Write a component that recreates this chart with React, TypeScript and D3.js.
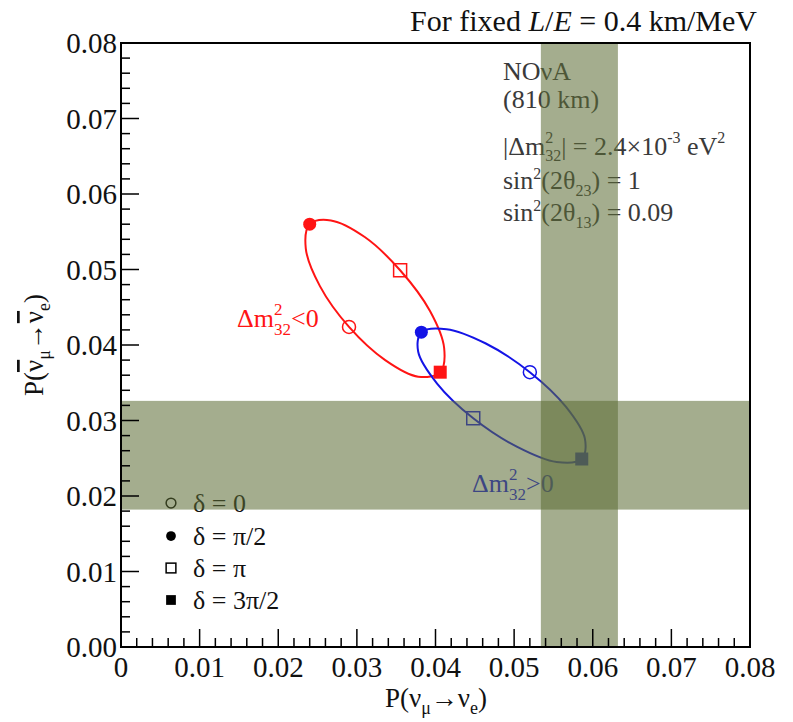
import React from 'react';
import * as d3 from 'd3';

// ---- data ----
const xTickValues = [0, 0.01, 0.02, 0.03, 0.04, 0.05, 0.06, 0.07, 0.08];
const xTickLabels = ['0', '0.01', '0.02', '0.03', '0.04', '0.05', '0.06', '0.07', '0.08'];
const yTickValues = [0, 0.01, 0.02, 0.03, 0.04, 0.05, 0.06, 0.07, 0.08];
const yTickLabels = ['0.00', '0.01', '0.02', '0.03', '0.04', '0.05', '0.06', '0.07', '0.08'];

// traced points along the Δm²32<0 (red) curve
const redCurveX = [0.0290, 0.0253, 0.0235, 0.0240, 0.0267, 0.0310, 0.0355, 0.0393, 0.0411, 0.0406, 0.0378, 0.0336];
const redCurveY = [0.0424, 0.0478, 0.0528, 0.0560, 0.0565, 0.0543, 0.0499, 0.0445, 0.0396, 0.0364, 0.0358, 0.0380];
// traced points along the Δm²32>0 (blue) curve
const blueCurveX = [0.0520, 0.0464, 0.0414, 0.0382, 0.0378, 0.0402, 0.0448, 0.0504, 0.0554, 0.0586, 0.0590, 0.0566];
const blueCurveY = [0.0364, 0.0402, 0.0421, 0.0417, 0.0391, 0.0349, 0.0303, 0.0265, 0.0245, 0.0249, 0.0276, 0.0318];

// δ = 0, π/2, π, 3π/2
const deltaLabels = ['0', 'π/2', 'π', '3π/2'];
const redMarkerX = [0.0290, 0.0240, 0.0355, 0.0406];
const redMarkerY = [0.0424, 0.0560, 0.0499, 0.0364];
const blueMarkerX = [0.0520, 0.0382, 0.0448, 0.0586];
const blueMarkerY = [0.0364, 0.0417, 0.0303, 0.0249];

// NOvA measurement bands
const nuBandX = [0.0534, 0.0632];
const nubarBandY = [0.0182, 0.0326];

// ---- layout ----
const W = 793, H = 722;
const L = 121, R = 750, T = 43, B = 647;
const FONT = "'Liberation Serif', 'DejaVu Serif', serif";
const RED = '#ff1414';
const BLUE = '#1414e6';
const BAND = 'rgb(92,108,53)';

const x = d3.scaleLinear().domain([0, 0.08]).range([L, R]);
const y = d3.scaleLinear().domain([0, 0.08]).range([B, T]);

function Marker({ kind, cx, cy, color, size = 1 }: { kind: number; cx: number; cy: number; color: string; size?: number }) {
  const r = 6.5 * size;
  const s = 6.5 * size;
  if (kind === 0) return <circle cx={cx} cy={cy} r={r} fill="none" stroke={color} strokeWidth={1.5} />;
  if (kind === 1) return <circle cx={cx} cy={cy} r={r} fill={color} />;
  if (kind === 2) return <rect x={cx - s} y={cy - s} width={2 * s} height={2 * s} fill="none" stroke={color} strokeWidth={1.5} />;
  return <rect x={cx - s} y={cy - s} width={2 * s} height={2 * s} fill={color} />;
}

function DmLabel({ xp, yp, color, sign }: { xp: number; yp: number; color: string; sign: string }) {
  return (
    <text x={xp} y={yp} fill={color} fontSize={26}>
      Δm
      <tspan fontSize={17} dy={-12}>2</tspan>
      <tspan fontSize={17} dx={-8.5} dy={20}>32</tspan>
      <tspan dy={-8}>{sign}0</tspan>
    </text>
  );
}

export default function App() {
  const line = d3.line<[number, number]>()
    .x(d => x(d[0]))
    .y(d => y(d[1]))
    .curve(d3.curveCatmullRomClosed.alpha(0.5));
  const redPts: [number, number][] = redCurveX.map((v, i) => [v, redCurveY[i]]);
  const bluePts: [number, number][] = blueCurveX.map((v, i) => [v, blueCurveY[i]]);

  const minorX = d3.range(0, 41).map(i => i * 0.002);
  const minorY = d3.range(0, 41).map(i => i * 0.002);

  const legendY = [503, 536, 568, 600];

  return (
    <svg width={W} height={H} style={{ position: 'absolute', left: 0, top: 0, display: 'block', fontFamily: FONT }}>
      <rect x={0} y={0} width={W} height={H} fill="#fff" />

      {/* title */}
      <text x={757} y={31} textAnchor="end" fontSize={30} fill="#111">
        For fixed <tspan fontStyle="italic">L</tspan>/<tspan fontStyle="italic">E</tspan> = 0.4 km/MeV
      </text>

      {/* annotation */}
      <g fill="#3a3a3a" fontSize={26}>
        <text x={503} y={80}>NOνA</text>
        <text x={503} y={108}>(810 km)</text>
        <text x={503} y={155}>
          |Δm<tspan fontSize={16} dy={-12}>2</tspan>
          <tspan fontSize={16} dx={-8} dy={18}>32</tspan>
          <tspan dy={-6}>| = 2.4×10</tspan>
          <tspan fontSize={16} dy={-12}>-3</tspan>
          <tspan dy={12}> eV</tspan>
          <tspan fontSize={16} dy={-12}>2</tspan>
        </text>
        <text x={503} y={189}>
          sin<tspan fontSize={16} dy={-10}>2</tspan>
          <tspan dy={10}>(2θ</tspan>
          <tspan fontSize={16} dy={7}>23</tspan>
          <tspan dy={-7}>) = 1</tspan>
        </text>
        <text x={503} y={221}>
          sin<tspan fontSize={16} dy={-10}>2</tspan>
          <tspan dy={10}>(2θ</tspan>
          <tspan fontSize={16} dy={7}>13</tspan>
          <tspan dy={-7}>) = 0.09</tspan>
        </text>
      </g>

      {/* curves */}
      <path d={line(redPts) || ''} fill="none" stroke={RED} strokeWidth={2} />
      <path d={line(bluePts) || ''} fill="none" stroke={BLUE} strokeWidth={2} />

      {/* markers */}
      {redMarkerX.map((v, i) => (
        <Marker key={'r' + i} kind={i} cx={x(v)} cy={y(redMarkerY[i])} color={RED} />
      ))}
      {blueMarkerX.map((v, i) => (
        <Marker key={'b' + i} kind={i} cx={x(v)} cy={y(blueMarkerY[i])} color={BLUE} />
      ))}

      <DmLabel xp={237} yp={327} color={RED} sign="<" />
      <DmLabel xp={472} yp={492} color={BLUE} sign=">" />

      {/* legend */}
      {deltaLabels.map((lab, i) => (
        <g key={'lg' + i}>
          <Marker kind={i} cx={171} cy={legendY[i]} color="#000" size={0.75} />
          <text x={193} y={legendY[i] + 9} fontSize={26} fill="#111">δ = {lab}</text>
        </g>
      ))}

      {/* bands (drawn on top, translucent) */}
      <rect x={x(nuBandX[0])} y={T} width={x(nuBandX[1]) - x(nuBandX[0])} height={B - T} fill={BAND} opacity={0.56} />
      <rect x={L} y={y(nubarBandY[1])} width={R - L} height={y(nubarBandY[0]) - y(nubarBandY[1])} fill={BAND} opacity={0.56} />

      {/* ticks */}
      <g stroke="#000" strokeWidth={1.5}>
        {minorX.map((v, i) => {
          const major = i % 5 === 0;
          return <line key={'tx' + i} x1={x(v)} x2={x(v)} y1={B} y2={B - (major ? 18 : 9)} />;
        })}
        {minorY.map((v, i) => {
          const major = i % 5 === 0;
          return <line key={'ty' + i} x1={L} x2={L + (major ? 18 : 9)} y1={y(v)} y2={y(v)} />;
        })}
      </g>

      {/* frame */}
      <rect x={L} y={T} width={R - L} height={B - T} fill="none" stroke="#000" strokeWidth={2} />

      {/* tick labels */}
      {xTickValues.map((v, i) => (
        <text key={'xl' + i} x={x(v)} y={677} textAnchor="middle" fontSize={29} fill="#111">{xTickLabels[i]}</text>
      ))}
      {yTickValues.map((v, i) => (
        <text key={'yl' + i} x={117} y={y(v) + 10} textAnchor="end" fontSize={29} fill="#111">{yTickLabels[i]}</text>
      ))}

      {/* axis titles */}
      <text x={436} y={707} textAnchor="middle" fontSize={27} fill="#111">
        P(ν<tspan fontSize={18} dy={7}>μ</tspan>
        <tspan dy={-7}>→ν</tspan>
        <tspan fontSize={18} dy={7}>e</tspan>
        <tspan dy={-7}>)</tspan>
      </text>
      <text transform="translate(43,345) rotate(-90)" textAnchor="middle" fontSize={27} fill="#111">
        P(<tspan style={{ textDecoration: 'overline' }}>ν</tspan>
        <tspan fontSize={18} dy={7}>μ</tspan>
        <tspan dy={-7}>→</tspan>
        <tspan style={{ textDecoration: 'overline' }}>ν</tspan>
        <tspan fontSize={18} dy={7}>e</tspan>
        <tspan dy={-7}>)</tspan>
      </text>
    </svg>
  );
}
